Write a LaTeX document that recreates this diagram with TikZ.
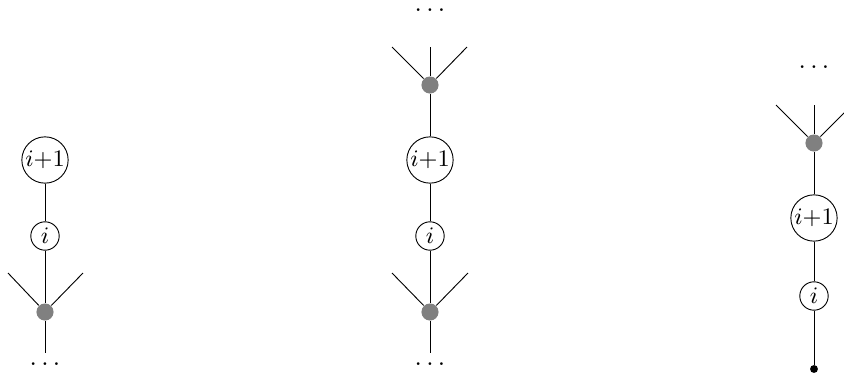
\documentclass[tikz,border=0pt]{standalone}
\begin{document}
\begin{tikzpicture}[x=0.38pt,y=-0.38pt,
  lab/.style={circle,draw,line width=0.35pt,inner sep=0pt,font=\small},
  big/.style={lab,minimum size=17.6pt},
  small/.style={lab,minimum size=10.8pt},
  gdot/.style={circle,fill=gray,inner sep=0pt,minimum size=6.5pt},
  bdot/.style={circle,fill=black,inner sep=0pt,minimum size=3pt},
  edge/.style={line width=0.35pt}]
\useasboundingbox (0,0) rectangle (844,375);
% left tree
\node[big] (a1) at (45,160) {$i{+}1$};
\node[small] (a2) at (45,236) {$i$};
\node[gdot] (a3) at (45,312) {};
\coordinate (a4) at (8,273);
\coordinate (a5) at (83,273);
\coordinate (a6) at (45,353);
\node[inner sep=1pt] (a7) at (45,364) {$\dots$};
\draw[edge] (a1) -- (a2) -- (a3);
\draw[edge] (a4) -- (a3) -- (a5);
\draw[edge] (a3) -- (a6);
% middle tree
\node[inner sep=1pt] (b0) at (430,10) {$\dots$};
\coordinate (b1) at (392,47);
\coordinate (b2) at (467,47);
\coordinate (b3) at (430,47);
\node[gdot] (b4) at (430,85) {};
\node[big] (b5) at (430,160) {$i{+}1$};
\node[small] (b6) at (430,236) {$i$};
\node[gdot] (b7) at (430,312) {};
\coordinate (b8) at (392,273);
\coordinate (b9) at (468,273);
\coordinate (b10) at (430,353);
\node[inner sep=1pt] (b11) at (430,364) {$\dots$};
\draw[edge] (b1) -- (b4) -- (b2);
\draw[edge] (b3) -- (b4) -- (b5) -- (b6) -- (b7);
\draw[edge] (b8) -- (b7) -- (b9);
\draw[edge] (b7) -- (b10);
% right tree
\node[inner sep=1pt] (c0) at (814,67) {$\dots$};
\coordinate (c1) at (776,105);
\coordinate (c2) at (852,105);
\coordinate (c3) at (814,105);
\node[gdot] (c4) at (814,143) {};
\node[big] (c5) at (814,218) {$i{+}1$};
\node[small] (c6) at (814,296) {$i$};
\node[bdot] (c7) at (814,369) {};
\draw[edge] (c1) -- (c4) -- (c2);
\draw[edge] (c3) -- (c4) -- (c5) -- (c6) -- (c7);
\end{tikzpicture}
\end{document}
